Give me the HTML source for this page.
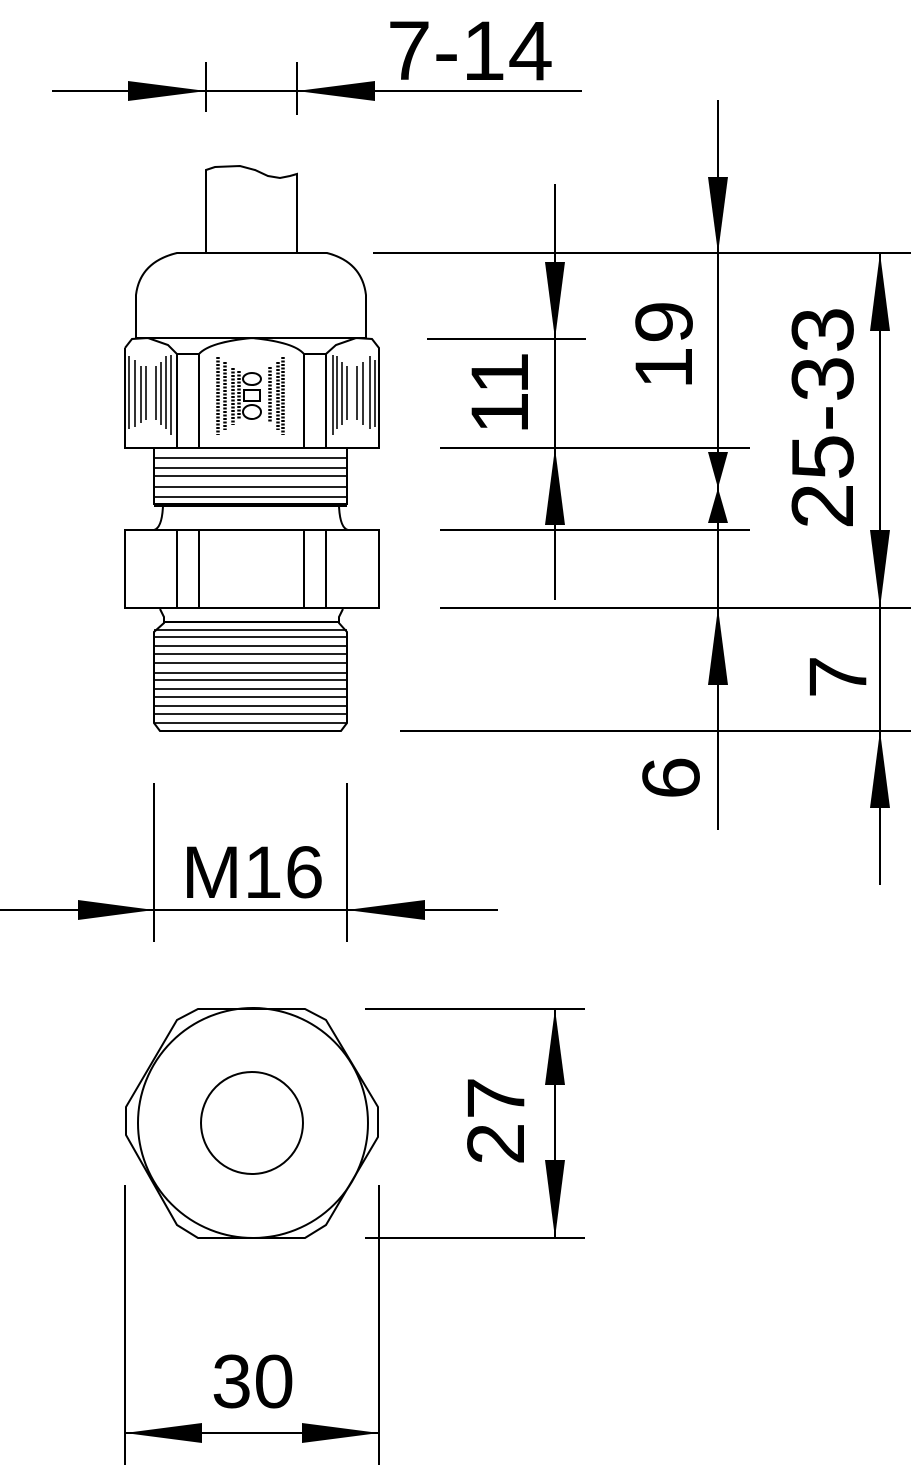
<!DOCTYPE html>
<html><head><meta charset="utf-8"><style>
html,body{margin:0;padding:0;background:#fff;}
svg{display:block}
text{font-family:"Liberation Sans",Arial,sans-serif;fill:#000}
</style></head><body>
<svg width="911" height="1465" viewBox="0 0 911 1465" xmlns="http://www.w3.org/2000/svg">
<g stroke="#000" stroke-width="2" fill="none">
<line x1="52" y1="91" x2="582" y2="91"/>
<line x1="206" y1="62" x2="206" y2="112"/>
<line x1="297" y1="62" x2="297" y2="115"/>
<path d="M206 253 L206 170 L215 167 L240 166 L255 170 L268 176 L280 178 L290 176 L297 174 L297 253"/>
<path d="M136 338 L136 295 Q140 262 177 253 L327 253 Q362 262 366 295 L366 338"/>
<path d="M125 348 L132 339 L148 338 L168 345 L177 354 L177 448 M125 348 L125 448 L379 448 L379 348 L372 339 L356 338 L336 345 L326 354 L326 448"/>
<path d="M199 354 L199 448 M304 354 L304 448 M177 354 L199 354 M304 354 L326 354 M199 354 Q210 342 252 338 Q294 342 304 354"/>
<line x1="136" y1="338" x2="366" y2="338"/>
<g stroke-width="1.6">
<line x1="129" y1="356" x2="129" y2="429"/><line x1="135" y1="360" x2="135" y2="427"/><line x1="141" y1="366" x2="141" y2="423"/><line x1="146" y1="366" x2="146" y2="420"/><line x1="156" y1="366" x2="156" y2="420"/><line x1="161" y1="362" x2="161" y2="425"/><line x1="166" y1="356" x2="166" y2="429"/><line x1="171" y1="355" x2="171" y2="435"/>
<line x1="333" y1="355" x2="333" y2="435"/><line x1="337" y1="356" x2="337" y2="429"/><line x1="342" y1="362" x2="342" y2="425"/><line x1="347" y1="366" x2="347" y2="420"/><line x1="357" y1="366" x2="357" y2="420"/><line x1="363" y1="362" x2="363" y2="425"/><line x1="370" y1="356" x2="370" y2="429"/><line x1="375" y1="360" x2="375" y2="427"/>
</g>
<g stroke-width="3.5" stroke-dasharray="2 1.5">
<line x1="218" y1="357" x2="218" y2="435"/><line x1="225" y1="362" x2="225" y2="430"/><line x1="233" y1="368" x2="233" y2="425"/><line x1="239" y1="371" x2="239" y2="420"/>
<line x1="270" y1="367" x2="270" y2="422"/><line x1="278" y1="362" x2="278" y2="430"/><line x1="283" y1="357" x2="283" y2="435"/>
</g>
<ellipse cx="252" cy="379" rx="9" ry="6"/><rect x="244" y="390" width="16" height="11"/><ellipse cx="252" cy="412" rx="9" ry="7"/>
<path d="M154 448 L154 504 L347 504 L347 448"/>
<g stroke-width="1.8">
<line x1="154" y1="458" x2="347" y2="458"/><line x1="154" y1="468" x2="347" y2="468"/><line x1="154" y1="476" x2="347" y2="476"/><line x1="154" y1="487" x2="347" y2="487"/><line x1="154" y1="497" x2="347" y2="497"/>
</g>
<path d="M163 506 Q162 528 154 530 M339 506 Q340 528 348 530"/>
<line x1="154" y1="506" x2="347" y2="506"/>
<rect x="125" y="530" width="254" height="78"/>
<path d="M177 530 L177 608 M199 530 L199 608 M304 530 L304 608 M326 530 L326 608"/>
<path d="M160 609 L164 617 L164 623 L154 632 L154 723 L160 731 L341 731 L347 723 L347 632 L339 623 L339 617 L343 609"/>
<line x1="164" y1="622" x2="339" y2="622"/>
<g stroke-width="1.8">
<line x1="154" y1="630" x2="347" y2="630"/><line x1="154" y1="637" x2="347" y2="637"/><line x1="154" y1="646" x2="347" y2="646"/><line x1="154" y1="654" x2="347" y2="654"/><line x1="154" y1="663" x2="347" y2="663"/><line x1="154" y1="673" x2="347" y2="673"/><line x1="154" y1="680" x2="347" y2="680"/><line x1="154" y1="689" x2="347" y2="689"/><line x1="154" y1="697" x2="347" y2="697"/><line x1="154" y1="706" x2="347" y2="706"/><line x1="154" y1="714" x2="347" y2="714"/><line x1="154" y1="723" x2="347" y2="723"/>
</g>
<line x1="373" y1="253" x2="911" y2="253"/>
<line x1="427" y1="339" x2="586" y2="339"/>
<line x1="440" y1="448" x2="750" y2="448"/>
<line x1="440" y1="530" x2="750" y2="530"/>
<line x1="440" y1="608" x2="911" y2="608"/>
<line x1="400" y1="731" x2="911" y2="731"/>
<line x1="555" y1="184" x2="555" y2="600"/>
<line x1="718" y1="100" x2="718" y2="830"/>
<line x1="880" y1="253" x2="880" y2="885"/>
<line x1="154" y1="783" x2="154" y2="942"/>
<line x1="347" y1="783" x2="347" y2="942"/>
<line x1="0" y1="910" x2="498" y2="910"/>
<path d="M198 1009 L305 1009 L326 1020 L378 1107 L378 1137 L326 1225 L305 1238 L198 1238 L177 1225 L126 1135 L126 1107 L177 1020 Z"/>
<circle cx="253" cy="1123" r="115"/>
<circle cx="252" cy="1123" r="51"/>
<line x1="365" y1="1009" x2="585" y2="1009"/>
<line x1="365" y1="1238" x2="585" y2="1238"/>
<line x1="555" y1="1009" x2="555" y2="1238"/>
<line x1="125" y1="1185" x2="125" y2="1465"/>
<line x1="379" y1="1185" x2="379" y2="1465"/>
<line x1="125" y1="1433" x2="379" y2="1433"/>
</g>
<g fill="#000">
<polygon points="206,91 128,81 128,101"/>
<polygon points="297,91 375,81 375,101"/>
<polygon points="555,339 545,262 565,262"/>
<polygon points="555,448 545,525 565,525"/>
<polygon points="718,253 708,177 728,177"/>
<polygon points="708,452 728,452 718,488"/>
<polygon points="708,523 728,523 718,488"/>
<polygon points="718,608 708,685 728,685"/>
<polygon points="880,253 870,331 890,331"/>
<polygon points="880,608 870,530 890,530"/>
<polygon points="880,731 870,808 890,808"/>
<polygon points="154,910 78,900 78,920"/>
<polygon points="347,910 425,900 425,920"/>
<polygon points="555,1009 545,1085 565,1085"/>
<polygon points="555,1238 545,1160 565,1160"/>
<polygon points="125,1433 202,1423 202,1443"/>
<polygon points="379,1433 302,1423 302,1443"/>
</g>
<text x="470" y="80" font-size="84" text-anchor="middle">7-14</text>
<text x="253" y="898" font-size="74" text-anchor="middle">M16</text>
<text x="253" y="1408" font-size="76" text-anchor="middle">30</text>
<text transform="translate(528,393) rotate(-90)" font-size="82" text-anchor="middle">11</text>
<text transform="translate(692,345) rotate(-90)" font-size="82" text-anchor="middle">19</text>
<text transform="translate(853,418) rotate(-90)" font-size="88" text-anchor="middle">25-33</text>
<text transform="translate(866,677) rotate(-90)" font-size="82" text-anchor="middle">7</text>
<text transform="translate(699,778) rotate(-90)" font-size="82" text-anchor="middle">6</text>
<text transform="translate(524,1121) rotate(-90)" font-size="82" text-anchor="middle">27</text>
</svg>
</body></html>
